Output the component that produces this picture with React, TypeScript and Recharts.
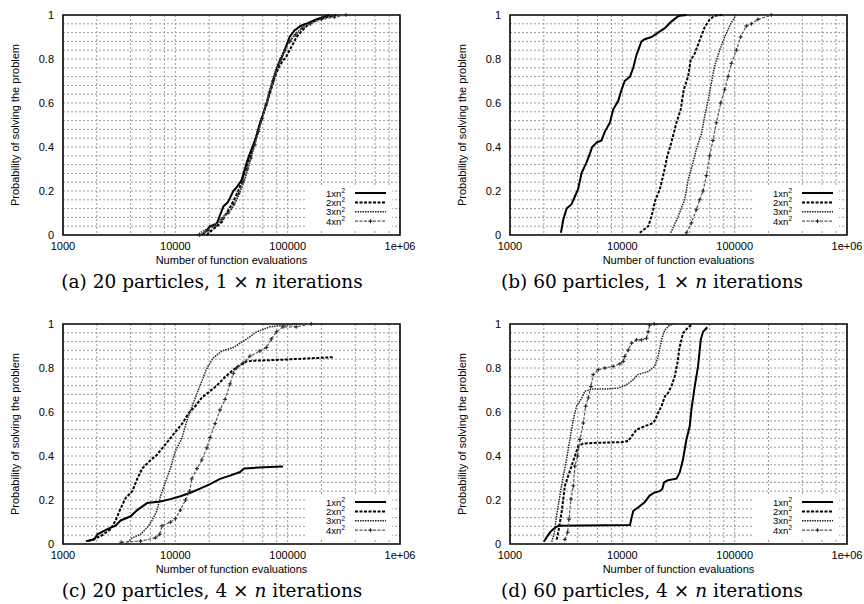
import React from 'react';
import { LineChart, Line, XAxis, YAxis, CartesianGrid, ReferenceArea, Legend } from 'recharts';

type Pt = [number, number];

// (a) 20 particles, 1 x n iterations  -> [evaluations, probability]
const a1xn2: Pt[] = [[17300, 0], [19000, 0.02], [20400, 0.04], [23300, 0.05], [25000, 0.09], [26800, 0.13], [29500, 0.15], [32800, 0.2], [35500, 0.22], [38900, 0.25], [41500, 0.3], [44500, 0.35], [48500, 0.4], [52800, 0.45], [56000, 0.5], [60500, 0.55], [65000, 0.6], [69300, 0.65], [74000, 0.7], [79400, 0.75], [85000, 0.79], [91000, 0.82], [97000, 0.86], [104000, 0.9], [115000, 0.93], [130000, 0.95], [146000, 0.96], [179000, 0.98], [235000, 1.0]];
const a2xn2: Pt[] = [[19000, 0], [21000, 0.02], [23500, 0.04], [26000, 0.06], [28500, 0.1], [31000, 0.13], [34000, 0.17], [37000, 0.21], [40000, 0.26], [43000, 0.31], [46500, 0.36], [50000, 0.41], [54000, 0.47], [58000, 0.52], [62500, 0.57], [67000, 0.62], [72000, 0.67], [77000, 0.72], [83000, 0.76], [90000, 0.79], [97000, 0.81], [104000, 0.84], [112000, 0.87], [120000, 0.9], [135000, 0.93], [155000, 0.96], [185000, 0.98], [270000, 1.0]];
const a3xn2: Pt[] = [[15500, 0], [18000, 0.02], [21000, 0.04], [24000, 0.06], [27500, 0.09], [31000, 0.11], [34500, 0.15], [38000, 0.2], [42000, 0.26], [45500, 0.32], [49000, 0.38], [53000, 0.44], [57000, 0.5], [61500, 0.56], [66000, 0.62], [71000, 0.68], [76000, 0.73], [82000, 0.78], [89000, 0.82], [97000, 0.86], [107000, 0.89], [120000, 0.92], [140000, 0.95], [170000, 0.97], [210000, 0.99], [300000, 1.0]];
const a4xn2: Pt[] = [[16500, 0], [19500, 0.02], [22500, 0.04], [26000, 0.07], [29500, 0.1], [33000, 0.14], [36500, 0.19], [40000, 0.24], [43500, 0.3], [47000, 0.35], [51000, 0.41], [55000, 0.47], [59500, 0.53], [64000, 0.59], [69000, 0.65], [74500, 0.7], [80000, 0.75], [87000, 0.8], [95000, 0.84], [105000, 0.88], [118000, 0.91], [135000, 0.94], [160000, 0.96], [200000, 0.98], [260000, 0.99], [330000, 1.0]];

// (b) 60 particles, 1 x n iterations
const b1xn2: Pt[] = [[2840, 0.01], [2980, 0.07], [3190, 0.12], [3530, 0.14], [3780, 0.175], [4050, 0.21], [4330, 0.28], [4800, 0.33], [5140, 0.37], [5390, 0.4], [5890, 0.42], [6530, 0.43], [6990, 0.47], [7740, 0.51], [8290, 0.57], [9190, 0.61], [9840, 0.66], [10500, 0.7], [11700, 0.72], [12500, 0.76], [13400, 0.82], [14800, 0.88], [15800, 0.89], [18200, 0.9], [20800, 0.92], [23900, 0.94], [27300, 0.97], [31400, 0.995], [37200, 1.0]];
const b2xn2: Pt[] = [[14300, 0.01], [17000, 0.04], [18200, 0.085], [19700, 0.16], [21500, 0.205], [23100, 0.27], [25200, 0.36], [27300, 0.42], [30300, 0.51], [33100, 0.57], [35200, 0.66], [38500, 0.72], [40600, 0.795], [44100, 0.825], [48800, 0.885], [54100, 0.945], [59900, 0.98], [66400, 0.997], [78700, 1.0]];
const b3xn2: Pt[] = [[27000, 0.01], [31400, 0.085], [35900, 0.16], [38500, 0.25], [42600, 0.33], [45600, 0.39], [50600, 0.46], [54100, 0.54], [57900, 0.61], [62000, 0.69], [66400, 0.77], [73600, 0.84], [81500, 0.9], [92100, 0.96], [101400, 0.995], [103500, 1.0]];
const b4xn2: Pt[] = [[37200, 0.01], [41200, 0.055], [45600, 0.115], [48800, 0.16], [52300, 0.2], [56000, 0.27], [59900, 0.36], [64100, 0.43], [68700, 0.51], [75100, 0.6], [81500, 0.66], [87300, 0.72], [93400, 0.78], [103500, 0.84], [113000, 0.9], [127000, 0.95], [141000, 0.96], [161000, 0.98], [212000, 1.0]];

// (c) 20 particles, 4 x n iterations
const c1xn2: Pt[] = [[1600, 0.013], [1890, 0.02], [2030, 0.044], [2480, 0.068], [2940, 0.083], [3260, 0.107], [4000, 0.126], [4580, 0.154], [5610, 0.186], [7360, 0.193], [9030, 0.204], [11100, 0.217], [13600, 0.233], [16600, 0.252], [20400, 0.272], [25000, 0.296], [30700, 0.311], [37600, 0.327], [41000, 0.343], [49300, 0.346], [69300, 0.35], [91000, 0.352]];
const c2xn2: Pt[] = [[1680, 0.013], [2170, 0.036], [2660, 0.068], [2940, 0.107], [3260, 0.162], [3610, 0.209], [4140, 0.24], [4580, 0.296], [5070, 0.343], [5810, 0.374], [6880, 0.406], [8160, 0.453], [9660, 0.5], [11500, 0.547], [13100, 0.594], [15000, 0.626], [17200, 0.665], [19700, 0.689], [23400, 0.72], [27700, 0.759], [32800, 0.791], [37600, 0.814], [43100, 0.83], [49300, 0.833], [91000, 0.838], [252000, 0.849]];
const c3xn2: Pt[] = [[3610, 0], [4140, 0.028], [4900, 0.044], [5610, 0.075], [6220, 0.107], [6880, 0.154], [7360, 0.217], [8160, 0.28], [9030, 0.343], [10000, 0.421], [11500, 0.484], [12700, 0.563], [14500, 0.642], [16600, 0.72], [19100, 0.8], [21800, 0.846], [25900, 0.877], [32800, 0.893], [43100, 0.932], [52800, 0.964], [69300, 0.987], [97300, 0.995], [128000, 1.0]];
const c4xn2: Pt[] = [[3300, 0.008], [4900, 0.013], [6650, 0.028], [7260, 0.044], [7620, 0.083], [9030, 0.099], [10000, 0.115], [11100, 0.154], [12300, 0.2], [13400, 0.24], [14000, 0.296], [15600, 0.343], [17200, 0.382], [19100, 0.437], [20400, 0.484], [22600, 0.547], [25000, 0.61], [27700, 0.657], [30700, 0.728], [32800, 0.775], [35100, 0.8], [40200, 0.822], [46100, 0.854], [56500, 0.877], [64700, 0.893], [71600, 0.932], [79400, 0.964], [91000, 0.987], [119000, 0.987], [162000, 1.0]];

// (d) 60 particles, 4 x n iterations
const d1xn2: Pt[] = [[2000, 0.01], [2120, 0.03], [2270, 0.053], [2430, 0.068], [2690, 0.083], [11700, 0.086], [12100, 0.12], [12500, 0.15], [13800, 0.166], [15800, 0.19], [17500, 0.22], [19400, 0.234], [21500, 0.24], [22700, 0.25], [23500, 0.28], [25500, 0.29], [30300, 0.297], [32400, 0.324], [34700, 0.385], [37200, 0.475], [39800, 0.535], [41200, 0.61], [44100, 0.716], [47200, 0.807], [49900, 0.928], [52300, 0.965], [57100, 0.985]];
const d2xn2: Pt[] = [[2600, 0.02], [2690, 0.053], [2780, 0.098], [2880, 0.143], [2980, 0.204], [3080, 0.264], [3300, 0.31], [3530, 0.354], [3780, 0.4], [4050, 0.445], [4490, 0.457], [6100, 0.46], [9840, 0.463], [11300, 0.468], [12100, 0.49], [13400, 0.52], [15800, 0.535], [18800, 0.55], [19700, 0.566], [20800, 0.596], [22300, 0.626], [23900, 0.671], [25500, 0.686], [27300, 0.716], [29300, 0.762], [30900, 0.822], [32400, 0.897], [34700, 0.958], [38500, 0.985], [41200, 0.995]];
const d3xn2: Pt[] = [[2350, 0.01], [2480, 0.05], [2600, 0.13], [2780, 0.22], [2980, 0.31], [3190, 0.385], [3410, 0.475], [3660, 0.566], [3910, 0.626], [4280, 0.656], [4640, 0.694], [5320, 0.704], [6990, 0.704], [9180, 0.709], [10500, 0.72], [12100, 0.74], [13800, 0.77], [17000, 0.784], [19400, 0.807], [20800, 0.852], [22300, 0.928], [23900, 0.973], [26400, 0.995], [29300, 1.0]];
const d4xn2: Pt[] = [[3080, 0.02], [3260, 0.053], [3350, 0.113], [3490, 0.204], [3660, 0.264], [3780, 0.354], [4000, 0.4], [4190, 0.475], [4490, 0.55], [4710, 0.626], [4970, 0.664], [5250, 0.716], [5500, 0.77], [6100, 0.792], [6990, 0.8], [8290, 0.807], [9500, 0.819], [10200, 0.83], [10500, 0.852], [11300, 0.882], [12100, 0.913], [13400, 0.928], [14800, 0.928], [16400, 0.935], [17000, 0.965], [17500, 0.995], [19200, 1.0]];

const seriesLabels = ['1xn', '2xn', '3xn', '4xn'];
const xTicks = [1000, 10000, 100000, 1000000];
const yTicks = [0, 0.2, 0.4, 0.6, 0.8, 1];
const xGrid = [2000, 4000, 6000, 8000, 10000, 20000, 40000, 60000, 80000, 100000, 200000, 400000, 600000, 800000];
const yGrid = [0.04, 0.08, 0.12, 0.16, 0.2, 0.24, 0.28, 0.32, 0.36, 0.4, 0.44, 0.48, 0.52, 0.56, 0.6, 0.64, 0.68, 0.72, 0.76, 0.8, 0.84, 0.88, 0.92, 0.96];

const SANS = '"Liberation Sans", Arial, Helvetica, sans-serif';
const SERIF = '"DejaVu Serif", "Liberation Serif", serif';

const lineStyles = [
  { stroke: '#000', width: 2, dash: undefined as string | undefined, plus: false },
  { stroke: '#000', width: 2, dash: '3 1.5', plus: false },
  { stroke: '#222', width: 1.5, dash: '1.5 1', plus: false },
  { stroke: '#555', width: 1.2, dash: '3 1.5', plus: true },
];

const toRows = (pts: Pt[]) => pts.map(([x, y]) => ({ x, y }));
const fmtX = (v: number) => (v === 1000000 ? '1e+06' : String(v));
const fmtY = (v: number) => String(v);

const PlusDot = (props: any) => {
  const { cx, cy, index } = props;
  if (cx == null || cy == null) return <g key={`n-${index}`} />;
  return (
    <path key={`p-${index}`} d={`M${cx - 2},${cy}h4M${cx},${cy - 2}v4`} stroke="#222" strokeWidth={1} fill="none" />
  );
};

const KeyBox = () => (
  <svg width={87} height={44} style={{ display: 'block' }}>
    <rect width={87} height={44} fill="#fff" />
    {lineStyles.map((s, i) => {
      const cy = 7 + i * 9.4;
      return (
        <g key={i}>
          <text x={40} y={cy + 3.5} textAnchor="end" fontSize={9.5} fontFamily={SANS} fill="#000">
            {seriesLabels[i]}
            <tspan dy={-3.5} fontSize={6.5}>2</tspan>
          </text>
          <line x1={50} x2={81} y1={cy} y2={cy} stroke={s.stroke} strokeWidth={s.width} strokeDasharray={s.dash} />
          {s.plus && <path d={`M63.5,${cy}h4M65.5,${cy - 2}v4`} stroke="#222" strokeWidth={1} />}
        </g>
      );
    })}
  </svg>
);

type PanelProps = {
  left: number;
  top: number;
  plotLeft: number; // absolute page x of plot area
  plotRight: number;
  series: Pt[][];
  letter: string;
  particles: number;
  iters: number;
  captionX: number;
};

const Panel = ({ left, top, plotLeft, plotRight, series, letter, particles, iters, captionX }: PanelProps) => {
  const W = 432;
  const H = 260;
  const mTop = 15;
  const yAxisW = 40;
  const mLeft = plotLeft - left - yAxisW;
  const mRight = left + W - plotRight;
  const plotTop = top + mTop;
  const plotBottom = top + H - 25;
  const plotCx = (plotLeft + plotRight) / 2;
  const plotCy = (plotTop + plotBottom) / 2;
  const keyLeft = plotRight - 95 - left;
  const keyTop = plotBottom - 49 - top;

  return (
    <>
      <div style={{ position: 'absolute', left, top, width: W, height: H }}>
        <LineChart width={W} height={H} margin={{ top: mTop, right: mRight, bottom: 5, left: mLeft }}>
          <CartesianGrid horizontalValues={yGrid} verticalValues={xGrid} stroke="#9a9a9a" strokeDasharray="2 2" strokeWidth={1} />
          <XAxis
            type="number"
            dataKey="x"
            scale="log"
            domain={[1000, 1000000]}
            allowDataOverflow
            ticks={xTicks}
            interval={0}
            tickFormatter={fmtX}
            tickLine={false}
            axisLine={false}
            tickSize={0}
            tickMargin={7}
            height={20}
            tick={{ fill: '#000', fontSize: 11, fontFamily: SANS }}
          />
          <YAxis
            type="number"
            dataKey="y"
            domain={[0, 1]}
            ticks={yTicks}
            interval={0}
            tickFormatter={fmtY}
            tickLine={false}
            axisLine={false}
            tickSize={0}
            tickMargin={9}
            width={yAxisW}
            tick={{ fill: '#000', fontSize: 11, fontFamily: SANS }}
          />
          {series.map((pts, i) => (
            <Line
              key={seriesLabels[i]}
              name={`${seriesLabels[i]}2`}
              data={toRows(pts)}
              dataKey="y"
              type="linear"
              stroke={lineStyles[i].stroke}
              strokeWidth={lineStyles[i].width}
              strokeDasharray={lineStyles[i].dash}
              dot={lineStyles[i].plus ? PlusDot : false}
              activeDot={false}
              isAnimationActive={false}
            />
          ))}
          <ReferenceArea x1={1000} x2={1000000} y1={0} y2={1} fill="none" fillOpacity={0} stroke="#000" strokeWidth={1.6} ifOverflow="visible" />
          <Legend
            layout="horizontal"
            align="center"
            verticalAlign="middle"
            content={() => <KeyBox />}
            wrapperStyle={{ left: keyLeft, top: keyTop, width: 87, height: 44 }}
          />
        </LineChart>
      </div>
      <div
        style={{
          position: 'absolute',
          left: plotLeft - 48,
          top: plotCy,
          transform: 'translate(-50%, -50%) rotate(-90deg)',
          whiteSpace: 'nowrap',
          fontFamily: SANS,
          fontSize: 11,
          color: '#000',
        }}
      >
        Probability of solving the problem
      </div>
      <div
        style={{
          position: 'absolute',
          left: plotCx,
          top: plotBottom + 25,
          transform: 'translate(-50%, -50%)',
          whiteSpace: 'nowrap',
          fontFamily: SANS,
          fontSize: 11,
          color: '#000',
        }}
      >
        Number of function evaluations
      </div>
      <div
        style={{
          position: 'absolute',
          left: captionX,
          top: plotBottom + 46,
          transform: 'translate(-50%, -50%)',
          whiteSpace: 'nowrap',
          fontFamily: SERIF,
          fontSize: 18.5,
          color: '#000',
        }}
      >
        ({letter}) {particles} particles, {iters} × <i>n</i> iterations
      </div>
    </>
  );
};

export default function App() {
  return (
    <div style={{ position: 'absolute', left: 0, top: 0, width: 864, height: 604, background: '#fff', overflow: 'hidden' }}>
      <Panel left={0} top={0} plotLeft={63} plotRight={400} series={[a1xn2, a2xn2, a3xn2, a4xn2]} letter="a" particles={20} iters={1} captionX={212} />
      <Panel left={432} top={0} plotLeft={510} plotRight={847} series={[b1xn2, b2xn2, b3xn2, b4xn2]} letter="b" particles={60} iters={1} captionX={652} />
      <Panel left={0} top={309} plotLeft={63} plotRight={400} series={[c1xn2, c2xn2, c3xn2, c4xn2]} letter="c" particles={20} iters={4} captionX={212} />
      <Panel left={432} top={309} plotLeft={510} plotRight={847} series={[d1xn2, d2xn2, d3xn2, d4xn2]} letter="d" particles={60} iters={4} captionX={652} />
    </div>
  );
}
